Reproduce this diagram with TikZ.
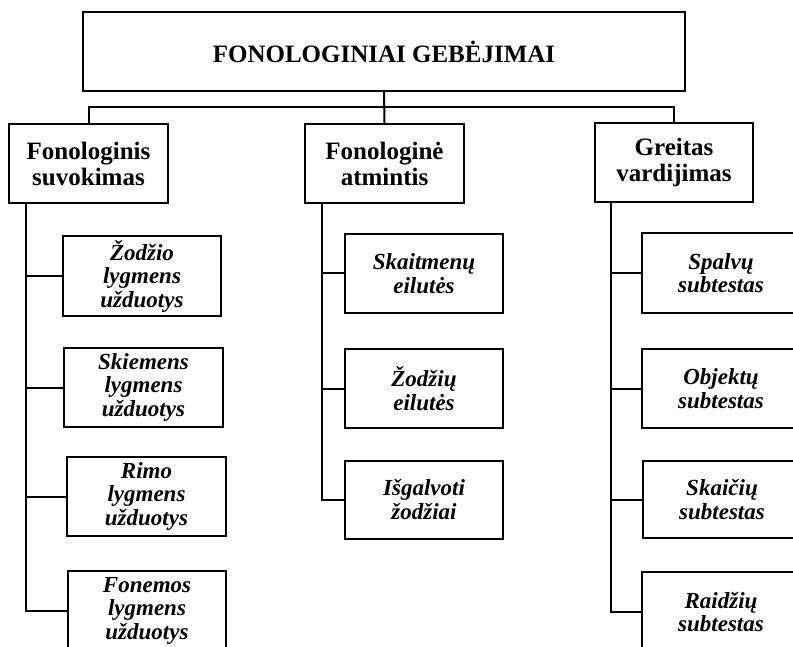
\documentclass[tikz,border=0pt]{standalone}
\usepackage{fontspec}
\setmainfont{Liberation Serif}
\begin{document}
\begin{tikzpicture}[x=1pt,y=-1pt,
  line width=2pt,
  box/.style={draw, rectangle, inner sep=0pt, align=center},
  headbox/.style={box, font=\bfseries\fontsize{25}{26}\selectfont},
  leafbox/.style={box, font=\bfseries\itshape\fontsize{23}{23.5}\selectfont},
  link/.style={draw}]
\useasboundingbox (0,0) rectangle (793,647);
% top
\node[headbox, minimum width=602pt, minimum height=79pt] (top) at (384,51.5) {FONOLOGINIAI GEBĖJIMAI};
% second level
\node[headbox, minimum width=159pt, minimum height=79pt] (b1) at (88.5,163.5) {Fonologinis\\suvokimas};
\node[headbox, minimum width=159pt, minimum height=79pt] (b2) at (384.5,163.5) {Fonologinė\\atmintis};
\node[headbox, minimum width=158pt, minimum height=79pt] (b3) at (674,162.5) {Greitas\\vardijimas};
% column 1
\node[leafbox, minimum width=158pt, minimum height=80pt] (c11) at (142,276) {Žodžio\\lygmens\\užduotys};
\node[leafbox, minimum width=159pt, minimum height=79pt] (c12) at (143.5,387.5) {Skiemens\\lygmens\\užduotys};
\node[leafbox, minimum width=159pt, minimum height=79pt] (c13) at (146.5,496.5) {Rimo\\lygmens\\užduotys};
\node[leafbox, minimum width=158pt, minimum height=80pt] (c14) at (147,610.5) {Fonemos\\lygmens\\užduotys};
% column 2
\node[leafbox, minimum width=158pt, minimum height=79pt] (c21) at (424,273.5) {Skaitmenų\\eilutės};
\node[leafbox, minimum width=158pt, minimum height=79pt] (c22) at (424,388.5) {Žodžių\\eilutės};
\node[leafbox, minimum width=158pt, minimum height=78pt] (c23) at (424,499.5) {Išgalvoti\\žodžiai};
% column 3
\node[leafbox, minimum width=158pt, minimum height=80pt] (c31) at (721,273) {Spalvų\\subtestas};
\node[leafbox, minimum width=158pt, minimum height=79pt] (c32) at (721,388.5) {Objektų\\subtestas};
\node[leafbox, minimum width=158pt, minimum height=77pt] (c33) at (722,499.5) {Skaičių\\subtestas};
\node[leafbox, minimum width=158pt, minimum height=80pt] (c34) at (721,612) {Raidžių\\subtestas};
% top connectors
\coordinate (j) at (384.5,107);
\draw[link] (top.south) -- (b2.north);
\draw[link] (b1.north) |- (j) -| (b3.north);
% spines
\coordinate (s1) at (26,203);
\coordinate (s2) at (322,203);
\coordinate (s3) at (611,202);
\draw[link] (s1) |- (c14.west);
\draw[link] (s1 |- c11.west) -- (c11.west);
\draw[link] (s1 |- c12.west) -- (c12.west);
\draw[link] (s1 |- c13.west) -- (c13.west);
\draw[link] (s2) |- (c23.west);
\draw[link] (s2 |- c21.west) -- (c21.west);
\draw[link] (s2 |- c22.west) -- (c22.west);
\draw[link] (s3) |- (c34.west);
\draw[link] (s3 |- c31.west) -- (c31.west);
\draw[link] (s3 |- c32.west) -- (c32.west);
\draw[link] (s3 |- c33.west) -- (c33.west);
\end{tikzpicture}
\end{document}
